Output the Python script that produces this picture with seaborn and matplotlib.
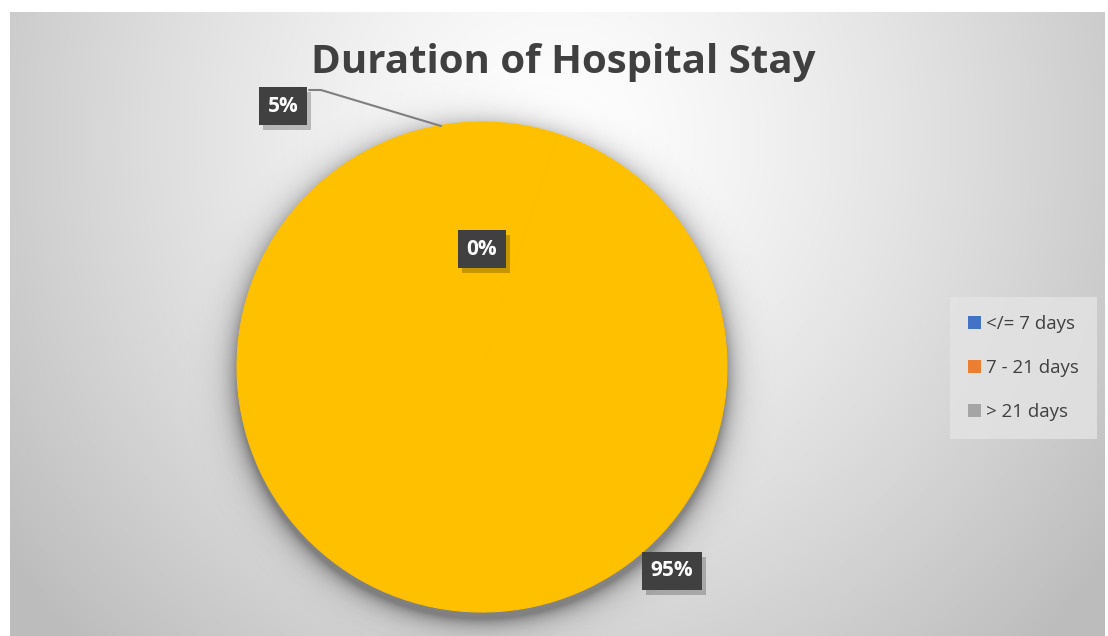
import numpy as np
import matplotlib
matplotlib.use("Agg")
import matplotlib.pyplot as plt
import seaborn as sns
from matplotlib.patches import Patch, Rectangle

categories = ["</= 7 days", "7 - 21 days", "> 21 days"]
values = [5, 0, 95]
legend_colors = ["#4472C4", "#ED7D31", "#A5A5A5"]
title = "Duration of Hospital Stay"

sns.set_theme(style="white")
plt.rcParams["font.family"] = ["Open Sans", "DejaVu Sans"]

W, H = 1108, 636
fig = plt.figure(figsize=(W / 100, H / 100), dpi=100)
fig.patch.set_facecolor("white")

def fx(px):
    return px / W

def fy(py):
    return 1 - py / H

# background gradient
bg = fig.add_axes([fx(10), 0, fx(1095), 624 / H])
ny, nx = 300, 520
yy, xx = np.mgrid[0:ny, 0:nx]
cx, cy = nx * 0.5, ny * 0.2
r = np.sqrt(((xx - cx) / (nx * 0.55)) ** 2 + ((yy - cy) / (ny * 1.0)) ** 2)
val = 1.0 - 0.22 * np.clip(r, 0, 1.2) ** 1.3
val = np.clip(val, 0.74, 1.0)
bg.imshow(np.dstack([val, val, val]), aspect="auto", extent=(0, 1, 0, 1), origin="upper")
bg.set_axis_off()

# pie axes
L = 1.2
R = 245
ax = fig.add_axes([fx(482 - L * R), fy(367 + L * R), fx(2 * L * R), 2 * L * R / H])
ax.set_axis_off()

# soft shadow image
n = 500
gy, gx = np.mgrid[-L:L:n * 1j, -L:L:n * 1j]
d = np.sqrt(gx ** 2 + (gy + 0.03) ** 2)
alpha = np.where(d < 1.0, 0.4, 0.4 * np.exp(-np.clip(d - 1.0, 0, None) / 0.045))
shadow = np.zeros((n, n, 4))
shadow[..., 3] = alpha
ax.imshow(shadow, extent=(-L, L, -L, L), origin="lower", zorder=1, interpolation="bilinear")

wedges, _ = ax.pie(values, colors=["#FFC000"] * len(values), startangle=90,
                   counterclock=False, radius=1.0,
                   wedgeprops=dict(linewidth=0.8, edgecolor="#FFC000"))
for w in wedges:
    w.set_zorder(3)
ax.set_xlim(-L, L)
ax.set_ylim(-L, L)
ax.set_aspect("equal")

# title
fig.text(fx(563), fy(63), title, ha="center", va="center", fontsize=29,
         fontweight="bold", color="#404040")

# data labels
label_pos = [(283, 106), (482, 249), (672, 571)]
label_texts = []
for v, (px, py) in zip(values, label_pos):
    t = fig.text(fx(px), fy(py), f"{v}%", ha="center", va="center", fontsize=15,
                 fontweight="bold", color="white", zorder=5,
                 bbox=dict(boxstyle="square,pad=0.42", fc="#404040", ec="none"))
    label_texts.append(t)

fig.canvas.draw()
for t in label_texts:
    bb = t.get_bbox_patch().get_window_extent()
    fig.add_artist(Rectangle(((bb.x0 + 4) / W, (bb.y0 - 5) / H), bb.width / W, bb.height / H,
                             transform=fig.transFigure, fc="black", ec="none",
                             alpha=0.22, zorder=4))

# leader line
fig.add_artist(plt.Line2D([fx(309), fx(321), fx(441)], [fy(90), fy(90), fy(126)],
                          color="#7F7F7F", lw=1.5))

handles = [Patch(facecolor=c, edgecolor="none") for c in legend_colors]
leg = fig.legend(handles, categories, loc="center left",
                 bbox_to_anchor=(fx(956), fy(368)), fontsize=13.5,
                 frameon=True, handlelength=0.7, handleheight=0.7,
                 handletextpad=0.25, labelspacing=1.4, borderpad=0.65,
                 borderaxespad=0, labelcolor="#404040")
leg.get_frame().set_facecolor("#E4E4E4")
leg.get_frame().set_edgecolor("none")
leg.get_frame().set_alpha(0.8)
leg.get_frame().set_boxstyle("square")

fig.savefig("out.png", dpi=100, facecolor="white")
